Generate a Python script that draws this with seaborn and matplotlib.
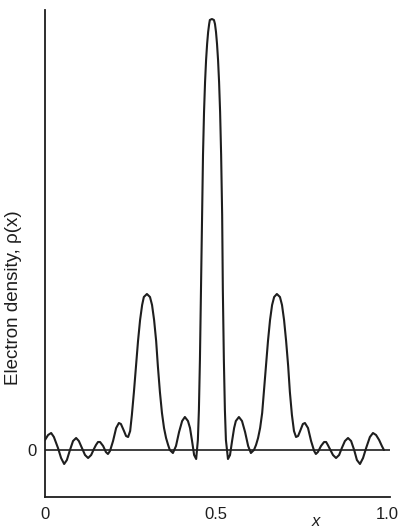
import matplotlib
matplotlib.use("Agg")
import matplotlib.pyplot as plt
import seaborn as sns
import pandas as pd

sns.set_style("white")
plt.rcParams['font.family'] = ['Liberation Sans', 'DejaVu Sans']

# positions along the cell (fraction of the repeat)
x_pos = [0.000, 0.009, 0.018, 0.026, 0.038, 0.047, 0.056, 0.064, 0.073, 0.082,
         0.091, 0.099, 0.108, 0.117, 0.126, 0.135, 0.143, 0.149, 0.155, 0.161,
         0.170, 0.178, 0.184, 0.190, 0.199, 0.208, 0.216, 0.222, 0.231, 0.237,
         0.243, 0.249, 0.254, 0.260, 0.266, 0.272, 0.278, 0.284, 0.289, 0.298,
         0.307, 0.313, 0.319, 0.325, 0.330, 0.336, 0.342, 0.348, 0.354, 0.360,
         0.365, 0.374, 0.383, 0.392, 0.401, 0.409, 0.418, 0.424, 0.430, 0.436,
         0.442, 0.447, 0.450, 0.453, 0.456, 0.459, 0.462, 0.465, 0.468, 0.471,
         0.474, 0.477, 0.480, 0.482, 0.488, 0.494, 0.497, 0.500, 0.503, 0.506,
         0.509, 0.512, 0.515, 0.518, 0.520, 0.523, 0.526, 0.529, 0.535, 0.541,
         0.547, 0.553, 0.558, 0.567, 0.576, 0.585, 0.594, 0.602, 0.611, 0.617,
         0.623, 0.629, 0.635, 0.640, 0.646, 0.652, 0.658, 0.664, 0.670, 0.678,
         0.687, 0.693, 0.699, 0.705, 0.711, 0.716, 0.722, 0.728, 0.734, 0.740,
         0.746, 0.754, 0.760, 0.769, 0.778, 0.787, 0.792, 0.798, 0.807, 0.816,
         0.822, 0.827, 0.833, 0.842, 0.851, 0.860, 0.868, 0.877, 0.886, 0.895,
         0.904, 0.912, 0.921, 0.930, 0.939, 0.950, 0.959, 0.968, 0.977, 0.985,
         0.991]
# electron density, arbitrary units (main peak ~431)
rho = [10, 15, 17, 13, 2, -8, -14, -10, 0, 9,
       12, 9, 2, -5, -8, -5, 1, 5, 8, 8,
       4, -2, -4, -1, 9, 22, 27, 26, 19, 14,
       13, 19, 35, 58, 84, 109, 130, 145, 153, 156,
       153, 145, 130, 109, 84, 58, 37, 22, 12, 5,
       0, -3, 4, 18, 29, 33, 29, 22, 9, -5,
       -9, 10, 40, 90, 160, 235, 295, 338, 368, 390,
       406, 418, 426, 430, 431, 430, 426, 418, 406, 390,
       368, 338, 295, 235, 160, 90, 40, 10, -9, -5,
       9, 22, 29, 33, 29, 18, 4, -3, 0, 5,
       12, 22, 37, 58, 84, 109, 130, 145, 153, 156,
       153, 145, 130, 109, 84, 58, 35, 19, 13, 14,
       19, 26, 27, 22, 9, -1, -4, -2, 4, 8,
       8, 5, 1, -5, -8, -5, 2, 9, 12, 9,
       0, -10, -14, -8, 2, 13, 17, 15, 10, 4,
       0]
xticks = [0, 0.5, 1.0]
xtick_labels = ["0", "0.5", "1.0"]

df = pd.DataFrame({"x": x_pos, "rho": rho})

ink = "#1e1e1e"
fig = plt.figure(figsize=(4.0, 5.29), dpi=100)
ax = fig.add_axes([45 / 400, 1 - 497 / 529, 345 / 400, 487 / 529])

sns.lineplot(ax=ax, data=df, x="x", y="rho", sort=False, color=ink, linewidth=1.5)
ax.axhline(0, color=ink, linewidth=1.2)

ax.set_xlim(0, 345 / 342)
ax.set_ylim(-47, 440)

for s in ["top", "right"]:
    ax.spines[s].set_visible(False)
for s in ["left", "bottom"]:
    ax.spines[s].set_color(ink)
    ax.spines[s].set_linewidth(1.3)

ax.set_xticks(xticks)
ax.set_xticklabels(xtick_labels)
ax.tick_params(axis="x", direction="in", length=6.5, width=1.2, color=ink,
               pad=7, labelsize=12, labelcolor=ink)
ax.set_yticks([0])
ax.set_yticklabels(["0"])
ax.tick_params(axis="y", length=0, pad=6, labelsize=12, labelcolor=ink)

ax.set_xlabel("x", style="italic", fontsize=12, color=ink)
ax.xaxis.set_label_coords(0.786, -0.035)
ax.set_ylabel("Electron density, ρ(x)", fontsize=13.5, color=ink)
ax.yaxis.set_label_coords(-0.067, 0.41)

fig.savefig("out.png", dpi=100, facecolor="white")
